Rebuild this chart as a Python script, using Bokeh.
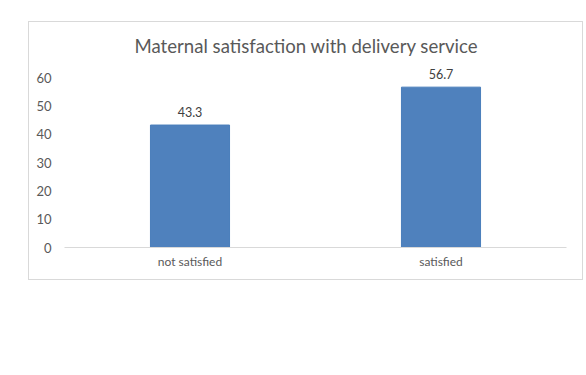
from bokeh.plotting import figure
from bokeh.models import ColumnDataSource, LabelSet, FixedTicker, Range1d
from bokeh.core.properties import value
from bokeh.embed import file_html
from bokeh.resources import INLINE

categories = ["not satisfied", "satisfied"]
values = [43.3, 56.7]
value_labels = ["43.3", "56.7"]
y_ticks = [0, 10, 20, 30, 40, 50, 60]
title_text = "Maternal satisfaction with delivery service"

FONT = "Lato"

src = ColumnDataSource(dict(cat=categories, val=values, lab=value_labels))

p = figure(x_range=categories, y_range=Range1d(0, 64), width=555, height=259,
           output_backend="svg", toolbar_location=None,
           min_border_left=35, min_border_right=18, min_border_top=43,
           min_border_bottom=34, title=title_text)
p.margin = (21, 0, 0, 28)
p.styles = {"border": "1px solid #d9d9d9", "box-sizing": "border-box"}
p.outline_line_color = None
p.background_fill_color = "white"
p.border_fill_color = "white"

p.title.align = "left"
p.title.offset = 70
p.title.text_font = FONT
p.title.text_font_size = "18.6px"
p.title.text_font_style = "normal"
p.title.text_color = "#595959"
p.title.standoff = 20

p.vbar(x="cat", top="val", width=0.315, source=src,
       fill_color="#4F81BD", line_color="#4A7EBB", line_width=1)

labels = LabelSet(x="cat", y="val", text="lab", source=src, y_offset=8,
                  text_align="center", text_baseline="bottom",
                  text_font=value(FONT), text_font_size=value("12.5px"),
                  text_color="#404040")
p.add_layout(labels)

p.xgrid.grid_line_color = None
p.ygrid.grid_line_color = None

p.yaxis.ticker = FixedTicker(ticks=y_ticks)
p.yaxis.axis_line_color = None
p.yaxis.major_tick_line_color = None
p.yaxis.minor_tick_line_color = None
p.yaxis.major_tick_out = 0
p.yaxis.major_label_standoff = 13
p.yaxis.major_label_text_font = FONT
p.yaxis.major_label_text_font_size = "13px"
p.yaxis.major_label_text_color = "#595959"

p.xaxis.axis_line_color = "#d9d9d9"
p.xaxis.major_tick_line_color = None
p.xaxis.minor_tick_line_color = None
p.xaxis.major_tick_out = 0
p.xaxis.major_label_standoff = 6
p.xaxis.major_label_text_font = FONT
p.xaxis.major_label_text_font_size = "12px"
p.xaxis.major_label_text_color = "#595959"

open("out.html", "w").write(file_html(p, INLINE))
